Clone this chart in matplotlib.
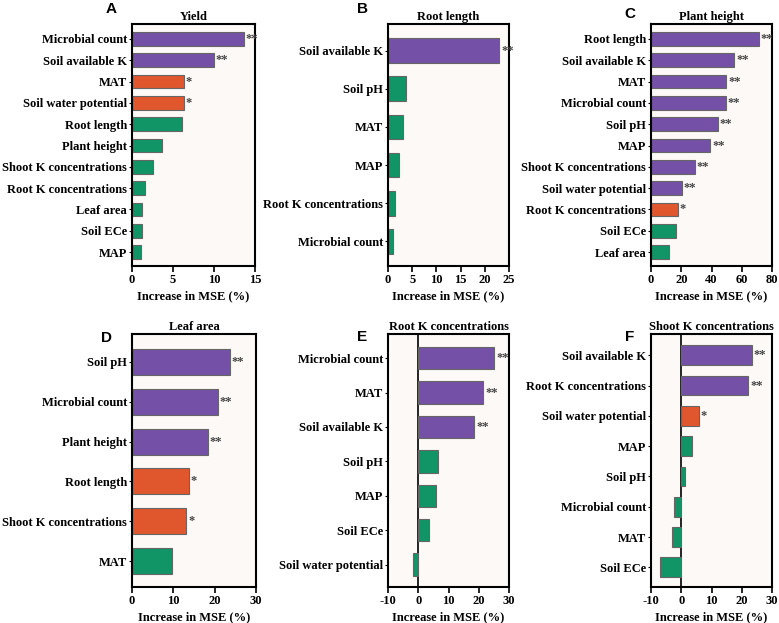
import matplotlib.pyplot as plt
import numpy as np

plt.rcParams['font.family'] = 'Liberation Serif'
plt.rcParams['font.weight'] = 'bold'
plt.rcParams['axes.unicode_minus'] = False

PURPLE = '#7451a6'
ORANGE = '#e0572d'
GREEN = '#119466'
BG = '#fdf9f6'

# Yield
yield_vars = ['Microbial count', 'Soil available K', 'MAT', 'Soil water potential', 'Root length',
              'Plant height', 'Shoot K concentrations', 'Root K concentrations', 'Leaf area', 'Soil ECe', 'MAP']
yield_vals = [13.6, 10.0, 6.3, 6.3, 6.05, 3.7, 2.6, 1.6, 1.25, 1.2, 1.1]
yield_sig = ['**', '**', '*', '*', '', '', '', '', '', '', '']

# Root length
rootlen_vars = ['Soil available K', 'Soil pH', 'MAT', 'MAP', 'Root K concentrations', 'Microbial count']
rootlen_vals = [23.0, 3.7, 3.2, 2.3, 1.4, 1.0]
rootlen_sig = ['**', '', '', '', '', '']

# Plant height
height_vars = ['Root length', 'Soil available K', 'MAT', 'Microbial count', 'Soil pH', 'MAP',
               'Shoot K concentrations', 'Soil water potential', 'Root K concentrations', 'Soil ECe', 'Leaf area']
height_vals = [71.4, 55.2, 49.9, 49.5, 44.0, 39.3, 28.8, 20.2, 17.6, 16.7, 11.9]
height_sig = ['**', '**', '**', '**', '**', '**', '**', '**', '*', '', '']

# Leaf area
leaf_vars = ['Soil pH', 'Microbial count', 'Plant height', 'Root length', 'Shoot K concentrations', 'MAT']
leaf_vals = [23.7, 20.7, 18.4, 13.7, 13.1, 9.7]
leaf_sig = ['**', '**', '**', '*', '*', '']

# Root K concentrations
rootk_vars = ['Microbial count', 'MAT', 'Soil available K', 'Soil pH', 'MAP', 'Soil ECe', 'Soil water potential']
rootk_vals = [25.2, 21.5, 18.5, 6.5, 6.0, 3.4, -1.6]
rootk_sig = ['**', '**', '**', '', '', '', '']

# Shoot K concentrations
shootk_vars = ['Soil available K', 'Root K concentrations', 'Soil water potential', 'MAP', 'Soil pH',
               'Microbial count', 'MAT', 'Soil ECe']
shootk_vals = [23.4, 22.2, 5.8, 3.7, 1.4, -2.3, -3.2, -6.9]
shootk_sig = ['**', '**', '*', '', '', '', '', '']

panels = [
    ('A', 'Yield', yield_vars, yield_vals, yield_sig, (0, 15), [0, 5, 10, 15]),
    ('B', 'Root length', rootlen_vars, rootlen_vals, rootlen_sig, (0, 25), [0, 5, 10, 15, 20, 25]),
    ('C', 'Plant height', height_vars, height_vals, height_sig, (0, 80), [0, 20, 40, 60, 80]),
    ('D', 'Leaf area', leaf_vars, leaf_vals, leaf_sig, (0, 30), [0, 10, 20, 30]),
    ('E', 'Root K concentrations', rootk_vars, rootk_vals, rootk_sig, (-10, 30), [-10, 0, 10, 20, 30]),
    ('F', 'Shoot K concentrations', shootk_vars, shootk_vals, shootk_sig, (-10, 30), [-10, 0, 10, 20, 30]),
]

# axes boxes in pixels: left, top, right, bottom
boxes = [(132, 24, 255, 266), (388, 24, 509, 266), (651, 24, 772, 266),
         (132, 334, 256, 587), (388, 334, 509, 587), (651, 334, 772, 587)]
letter_pos = [(111, 9), (362, 9), (630, 14), (107, 338), (362, 337), (630, 337)]

W, H = 779, 623
fig = plt.figure(figsize=(W / 100, H / 100), dpi=100)

for (letter, title, cats, vals, sig, xlim, xt), (l, t, r, b), (lx, ly) in zip(panels, boxes, letter_pos):
    ax = fig.add_axes([l / W, 1 - b / H, (r - l) / W, (b - t) / H])
    ax.set_facecolor(BG)
    n = len(cats)
    y = np.arange(n)
    colors = [PURPLE if s == '**' else ORANGE if s == '*' else GREEN for s in sig]
    ax.barh(y, vals, height=0.65, color=colors, edgecolor='#666666', linewidth=0.8, zorder=2)
    span = xlim[1] - xlim[0]
    for yi, v, s in zip(y, vals, sig):
        if s:
            ax.text(v + span * 0.015, yi, s, va='center', ha='left', fontsize=9,
                    color='#444444', zorder=3)
    if xlim[0] < 0:
        ax.axvline(0, color='black', lw=1.2, zorder=1)
    ax.set_xlim(*xlim)
    ax.set_xticks(xt)
    ax.set_ylim(n - 0.35, -0.7)
    ax.set_yticks(y)
    ax.set_yticklabels(cats, fontsize=9, fontweight='bold')
    for lab in ax.get_xticklabels():
        lab.set_fontsize(9)
        lab.set_fontweight('bold')
    ax.tick_params(axis='y', length=2.5, width=0.8, pad=1)
    ax.tick_params(axis='x', length=4, width=1.2, pad=2)
    for sp in ax.spines.values():
        sp.set_linewidth(1.5)
    ax.set_xlabel('Increase in MSE (%)', fontsize=9, fontweight='bold', labelpad=3)
    ax.set_title(title, fontsize=9, fontweight='bold', pad=3)
    fig.text(lx / W, 1 - ly / H, letter, fontsize=11, fontweight='bold', family='Liberation Sans',
             ha='center', va='center')

fig.savefig('out.png', dpi=100)
